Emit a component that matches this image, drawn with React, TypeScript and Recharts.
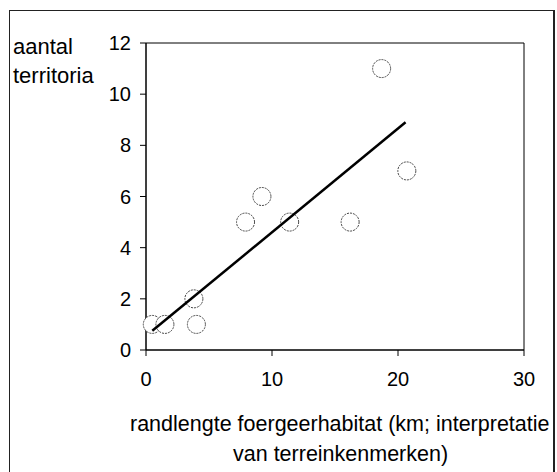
import { ScatterChart, Scatter, XAxis, YAxis, ReferenceArea } from 'recharts';

// randlengte foergeerhabitat (km) vs aantal territoria
const lengthKm = [0.5, 1.5, 3.8, 4.0, 7.9, 9.2, 11.4, 16.2, 18.7, 20.7];
const territories = [1, 1, 2, 1, 5, 6, 5, 5, 11, 7];

// trend line end points
const trendX = [0.5, 20.6];
const trendY = [0.75, 8.9];

const xTicks = [0, 10, 20, 30];
const yTicks = [0, 2, 4, 6, 8, 10, 12];

const points = lengthKm.map((x, i) => ({ x, y: territories[i] }));
const trend = trendX.map((x, i) => ({ x, y: trendY[i] }));

const font = '"Liberation Sans", Arial, sans-serif';

function Circle(props: any) {
  return (
    <circle
      cx={props.cx}
      cy={props.cy}
      r={9}
      fill="#fff"
      stroke="#444"
      strokeWidth={1}
      strokeDasharray="2 1"
    />
  );
}

function YTitle() {
  return (
    <g fontFamily={font} fontSize={22} fill="#000">
      <text x={13} y={54}>aantal</text>
      <text x={13} y={83}>territoria</text>
    </g>
  );
}

function XTitle() {
  return (
    <g fontFamily={font} fontSize={21.5} fill="#000">
      <text x={130} y={431}>randlengte foergeerhabitat (km; interpretatie</text>
      <text x={233} y={461}>van terreinkenmerken)</text>
    </g>
  );
}

export default function App() {
  return (
    <div
      style={{
        position: 'absolute',
        left: 0,
        top: 0,
        width: 557,
        height: 472,
        background: '#fff',
        overflow: 'hidden',
      }}
    >
      <div
        style={{
          position: 'absolute',
          left: 9,
          top: 10,
          width: 546,
          height: 480,
          boxSizing: 'border-box',
          borderTop: '1px solid #222',
          borderLeft: '1px solid #222',
          borderRight: '2px solid #222',
        }}
      />
      <div style={{ position: 'absolute', left: 0, top: 0, width: 553, height: 472, overflow: 'hidden' }}>
        <ScatterChart
          width={553}
          height={472}
          margin={{ top: 43, right: 29, left: 96, bottom: 82 }}
        >
          <XAxis
            type="number"
            dataKey="x"
            domain={[0, 30]}
            ticks={xTicks}
            height={40}
            stroke="#000"
            tickSize={6}
            tickMargin={16}
            tick={{ fill: '#000', fontSize: 20, fontFamily: font }}
            label={{ content: () => <XTitle /> }}
          />
          <YAxis
            type="number"
            dataKey="y"
            domain={[0, 12]}
            ticks={yTicks}
            width={50}
            stroke="#000"
            tickSize={6}
            tickMargin={9}
            tick={{ fill: '#000', fontSize: 20, fontFamily: font }}
            label={{ content: () => <YTitle /> }}
          />
          <ReferenceArea x1={0} x2={30} y1={0} y2={12} fill="none" stroke="#000" strokeWidth={1} />
          <Scatter data={points} shape={Circle} isAnimationActive={false} />
          <Scatter
            data={trend}
            line={{ stroke: '#000', strokeWidth: 2.5 }}
            shape={() => <g />}
            isAnimationActive={false}
          />
        </ScatterChart>
      </div>
    </div>
  );
}
